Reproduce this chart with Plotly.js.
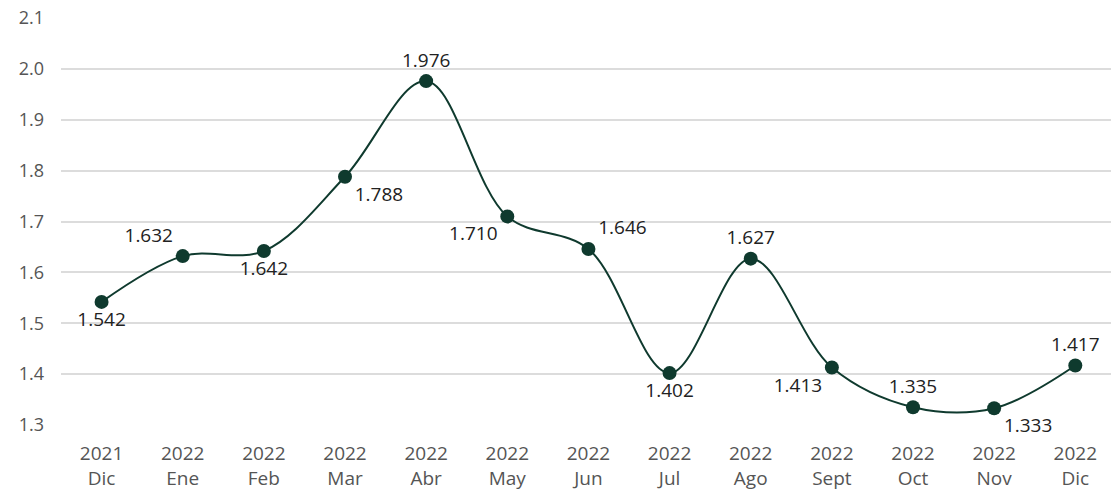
<!DOCTYPE html>
<html>
<head>
<meta charset="utf-8">
<script src="https://cdn.plot.ly/plotly-3.0.1.min.js"></script>
<style>
  html, body { margin: 0; padding: 0; background: #fff; }
  #chart { width: 1111px; height: 490px; }
</style>
</head>
<body>
<div id="chart"></div>
<script>
const years = ['2021', '2022', '2022', '2022', '2022', '2022', '2022', '2022', '2022', '2022', '2022', '2022', '2022'];
const months = ['Dic', 'Ene', 'Feb', 'Mar', 'Abr', 'May', 'Jun', 'Jul', 'Ago', 'Sept', 'Oct', 'Nov', 'Dic'];
const values = [1.542, 1.632, 1.642, 1.788, 1.976, 1.710, 1.646, 1.402, 1.627, 1.413, 1.335, 1.333, 1.417];
const labelPos = ['bottom center', 'top left', 'bottom center', 'bottom right', 'top center', 'bottom left',
  'top right', 'bottom center', 'top center', 'bottom left', 'top center', 'bottom right', 'top center'];

const idx = values.map((_, i) => i);
const tickText = years.map((y, i) => y + '<br>' + months[i]);

const trace = {
  x: idx,
  y: values,
  type: 'scatter',
  mode: 'lines+markers+text',
  line: { color: '#0f3a2e', width: 2, shape: 'spline', smoothing: 1 },
  marker: { color: '#0f3a2e', size: 14 },
  text: values.map(v => v.toFixed(3)),
  textposition: labelPos,
  textfont: { family: 'Open Sans, sans-serif', size: 19, color: '#222' },
  cliponaxis: false,
  hoverinfo: 'skip'
};

const layout = {
  width: 1111,
  height: 490,
  margin: { l: 61, r: 0, t: 18, b: 65 },
  paper_bgcolor: '#fff',
  plot_bgcolor: '#fff',
  showlegend: false,
  font: { family: 'Open Sans, sans-serif', size: 18, color: '#555' },
  xaxis: {
    range: [-0.5, 12.44],
    tickvals: idx,
    ticktext: tickText,
    showgrid: false,
    zeroline: false,
    showline: false,
    ticks: '',
    ticklabelstandoff: 15,
    tickfont: { size: 19, color: '#555' }
  },
  yaxis: {
    range: [1.3, 2.1],
    dtick: 0.1,
    tick0: 1.3,
    tickformat: '.1f',
    showgrid: true,
    gridcolor: '#dcdcdc',
    gridwidth: 2,
    zeroline: false,
    showline: false,
    ticks: '',
    ticklabelstandoff: 16,
    tickfont: { size: 18, color: '#555' }
  }
};

Plotly.newPlot('chart', [trace], layout, { displayModeBar: false, staticPlot: true });
</script>
</body>
</html>
